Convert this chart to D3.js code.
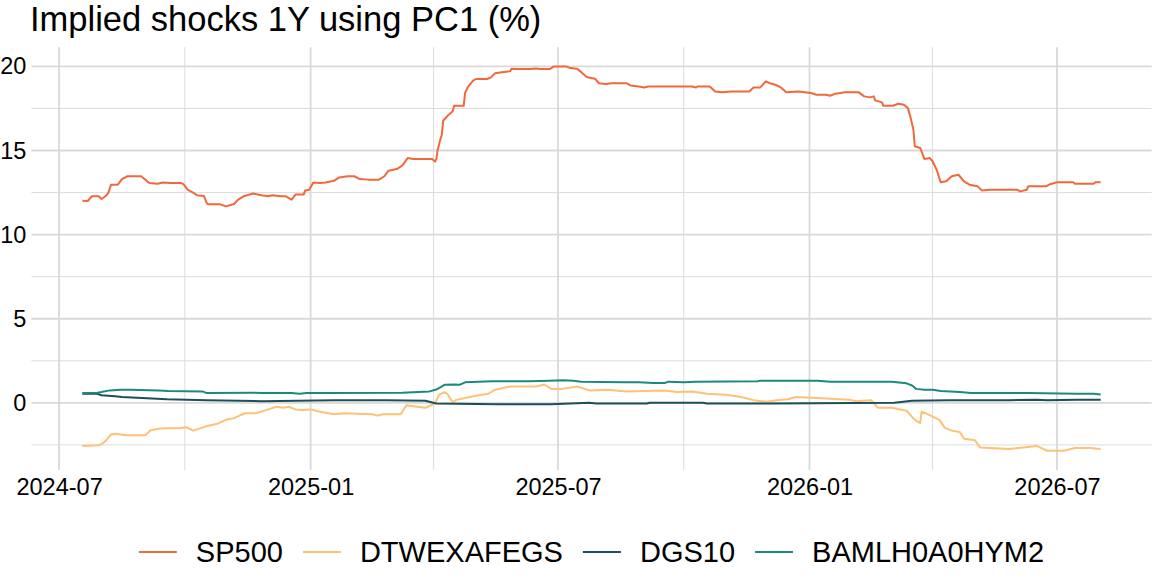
<!DOCTYPE html>
<html><head><meta charset="utf-8">
<script src="https://cdn.jsdelivr.net/npm/d3@7"></script>
<style>
body{margin:0;background:#fff}
svg{display:block}
text{font-family:"Liberation Sans",Arial,Helvetica,sans-serif;fill:#000}
</style>
</head><body>
<svg id="chart" width="1152" height="576"></svg>
<script>
const chartTitle = "Implied shocks 1Y using PC1 (%)";
const seriesNames = ["SP500", "DTWEXAFEGS", "DGS10", "BAMLH0A0HYM2"];
const seriesColors = ["#F0683C", "#FDC177", "#1B4F5B", "#1A8A7E"];
const xTickDates = ["2024-07-01", "2025-01-01", "2025-07-01", "2026-01-01", "2026-07-01"];
const xTickLabels = ["2024-07", "2025-01", "2025-07", "2026-01", "2026-07"];
const xMinorDates = ["2024-10-01", "2025-04-01", "2025-10-01", "2026-04-01"];
const yTicks = [0, 5, 10, 15, 20];
const yTickLabels = ["0", "5", "10", "15", "20"];
const yMinor = [-2.5, 2.5, 7.5, 12.5, 17.5];

const sp500 = [["2024-07-18",12.02],["2024-07-22",12.0],["2024-07-25",12.28],["2024-07-30",12.28],["2024-08-01",12.12],["2024-08-04",12.28],["2024-08-06",12.48],["2024-08-08",12.97],["2024-08-13",12.97],["2024-08-16",13.3],["2024-08-20",13.47],["2024-08-30",13.47],["2024-09-05",13.07],["2024-09-11",13.03],["2024-09-15",13.1],["2024-09-21",13.07],["2024-09-28",13.07],["2024-09-30",13.0],["2024-10-03",12.67],["2024-10-07",12.5],["2024-10-10",12.34],["2024-10-15",12.3],["2024-10-17",11.88],["2024-10-18",11.8],["2024-10-27",11.8],["2024-10-31",11.68],["2024-11-06",11.82],["2024-11-09",12.08],["2024-11-13",12.28],["2024-11-20",12.44],["2024-11-26",12.34],["2024-12-01",12.28],["2024-12-04",12.34],["2024-12-10",12.28],["2024-12-14",12.28],["2024-12-18",12.08],["2024-12-21",12.38],["2024-12-27",12.38],["2024-12-28",12.63],["2024-12-31",12.67],["2025-01-03",13.1],["2025-01-08",13.07],["2025-01-12",13.1],["2025-01-18",13.2],["2025-01-22",13.4],["2025-01-28",13.47],["2025-02-02",13.47],["2025-02-06",13.3],["2025-02-12",13.27],["2025-02-20",13.27],["2025-02-24",13.47],["2025-02-27",13.8],["2025-03-05",13.9],["2025-03-09",14.1],["2025-03-13",14.55],["2025-03-17",14.5],["2025-03-26",14.5],["2025-03-31",14.5],["2025-04-02",14.34],["2025-04-03",14.5],["2025-04-04",15.05],["2025-04-06",15.68],["2025-04-07",15.94],["2025-04-08",16.77],["2025-04-12",17.13],["2025-04-15",17.33],["2025-04-16",17.66],["2025-04-23",17.66],["2025-04-24",18.42],["2025-04-26",18.77],["2025-04-30",19.17],["2025-05-02",19.25],["2025-05-10",19.25],["2025-05-13",19.35],["2025-05-16",19.6],["2025-05-21",19.66],["2025-05-27",19.72],["2025-05-28",19.86],["2025-06-03",19.84],["2025-06-10",19.84],["2025-06-15",19.88],["2025-06-18",19.84],["2025-06-25",19.84],["2025-06-28",20.0],["2025-07-07",20.0],["2025-07-10",19.9],["2025-07-15",19.86],["2025-07-18",19.66],["2025-07-22",19.37],["2025-07-28",19.27],["2025-07-31",19.0],["2025-08-05",18.95],["2025-08-09",19.0],["2025-08-20",19.0],["2025-08-23",18.87],["2025-08-29",18.81],["2025-09-02",18.75],["2025-09-05",18.81],["2025-10-07",18.81],["2025-10-10",18.75],["2025-10-11",18.81],["2025-10-20",18.81],["2025-10-24",18.51],["2025-10-29",18.46],["2025-11-05",18.51],["2025-11-18",18.51],["2025-11-21",18.75],["2025-11-26",18.75],["2025-11-30",19.11],["2025-12-03",19.0],["2025-12-07",18.91],["2025-12-11",18.75],["2025-12-15",18.46],["2025-12-24",18.51],["2026-01-02",18.42],["2026-01-06",18.32],["2026-01-13",18.32],["2026-01-16",18.26],["2026-01-20",18.38],["2026-01-27",18.46],["2026-02-06",18.46],["2026-02-10",18.22],["2026-02-14",18.16],["2026-02-17",18.22],["2026-02-18",17.98],["2026-02-23",17.86],["2026-02-24",17.66],["2026-03-03",17.66],["2026-03-07",17.78],["2026-03-11",17.72],["2026-03-14",17.52],["2026-03-16",16.93],["2026-03-18",16.24],["2026-03-19",15.25],["2026-03-23",15.15],["2026-03-26",14.5],["2026-03-30",14.55],["2026-04-01",14.36],["2026-04-04",13.86],["2026-04-07",13.11],["2026-04-11",13.17],["2026-04-15",13.47],["2026-04-20",13.56],["2026-04-24",13.17],["2026-04-28",12.97],["2026-05-04",12.87],["2026-05-07",12.63],["2026-05-13",12.67],["2026-06-02",12.67],["2026-06-04",12.57],["2026-06-09",12.67],["2026-06-10",12.87],["2026-06-23",12.87],["2026-06-26",13.0],["2026-07-01",13.11],["2026-07-13",13.11],["2026-07-14",13.03],["2026-07-28",13.03],["2026-07-29",13.11],["2026-08-02",13.11]];

const dtwexafegs = [["2024-07-18",-2.56],["2024-07-29",-2.52],["2024-08-01",-2.46],["2024-08-04",-2.27],["2024-08-08",-1.88],["2024-08-11",-1.84],["2024-08-19",-1.92],["2024-09-02",-1.92],["2024-09-06",-1.63],["2024-09-13",-1.53],["2024-09-28",-1.49],["2024-10-02",-1.45],["2024-10-07",-1.65],["2024-10-11",-1.55],["2024-10-18",-1.36],["2024-10-25",-1.24],["2024-10-31",-1.01],["2024-11-06",-0.91],["2024-11-11",-0.72],["2024-11-14",-0.62],["2024-11-22",-0.62],["2024-12-01",-0.39],["2024-12-07",-0.23],["2024-12-12",-0.29],["2024-12-16",-0.23],["2024-12-21",-0.39],["2024-12-26",-0.43],["2025-01-01",-0.39],["2025-01-07",-0.52],["2025-01-18",-0.68],["2025-01-26",-0.62],["2025-02-15",-0.68],["2025-02-19",-0.76],["2025-02-23",-0.68],["2025-03-08",-0.68],["2025-03-12",-0.14],["2025-03-20",-0.23],["2025-03-26",-0.29],["2025-04-02",-0.04],["2025-04-05",0.48],["2025-04-09",0.64],["2025-04-11",0.54],["2025-04-15",0.02],["2025-04-17",0.16],["2025-04-24",0.29],["2025-05-04",0.45],["2025-05-11",0.54],["2025-05-16",0.78],["2025-05-27",0.97],["2025-06-15",0.97],["2025-06-21",1.09],["2025-06-26",0.83],["2025-07-04",0.83],["2025-07-15",0.97],["2025-07-24",0.74],["2025-08-06",0.78],["2025-08-20",0.68],["2025-09-03",0.70],["2025-09-17",0.74],["2025-09-26",0.64],["2025-10-07",0.68],["2025-10-18",0.54],["2025-11-01",0.48],["2025-11-12",0.35],["2025-11-21",0.16],["2025-12-01",0.06],["2025-12-08",0.16],["2025-12-16",0.21],["2025-12-22",0.35],["2026-01-07",0.29],["2026-01-30",0.19],["2026-02-04",0.10],["2026-02-15",0.16],["2026-02-20",-0.29],["2026-03-02",-0.29],["2026-03-13",-0.47],["2026-03-19",-1.01],["2026-03-23",-1.20],["2026-03-24",-0.52],["2026-03-28",-0.66],["2026-04-06",-1.01],["2026-04-10",-1.49],["2026-04-15",-1.65],["2026-04-21",-1.74],["2026-04-24",-2.13],["2026-05-02",-2.23],["2026-05-06",-2.66],["2026-05-27",-2.75],["2026-06-10",-2.62],["2026-06-16",-2.56],["2026-06-24",-2.85],["2026-07-06",-2.85],["2026-07-14",-2.69],["2026-07-25",-2.69],["2026-08-02",-2.75]];

const dgs10 = [["2024-07-18",0.54],["2024-07-29",0.54],["2024-08-01",0.45],["2024-08-11",0.39],["2024-08-16",0.35],["2024-09-18",0.21],["2024-10-17",0.16],["2024-11-26",0.10],["2025-01-18",0.16],["2025-02-26",0.16],["2025-03-26",0.12],["2025-04-03",-0.04],["2025-05-18",-0.08],["2025-06-26",-0.08],["2025-07-24",0.0],["2025-07-29",-0.04],["2025-09-04",-0.04],["2025-09-06",0.0],["2025-10-15",0.0],["2025-10-18",-0.04],["2025-12-05",-0.04],["2026-03-04",0.0],["2026-03-17",0.12],["2026-04-13",0.16],["2026-05-27",0.16],["2026-06-16",0.19],["2026-06-24",0.16],["2026-07-15",0.19],["2026-08-02",0.19]];

const bamlh0a0hym2 = [["2024-07-18",0.58],["2024-07-29",0.60],["2024-08-01",0.64],["2024-08-07",0.74],["2024-08-15",0.78],["2024-08-22",0.78],["2024-09-12",0.74],["2024-09-19",0.70],["2024-10-14",0.68],["2024-10-17",0.58],["2024-11-21",0.60],["2024-11-26",0.58],["2024-12-18",0.58],["2024-12-24",0.54],["2024-12-29",0.58],["2025-01-15",0.58],["2025-03-09",0.60],["2025-03-29",0.68],["2025-04-03",0.79],["2025-04-09",1.07],["2025-04-16",1.09],["2025-04-20",1.07],["2025-04-24",1.22],["2025-05-14",1.28],["2025-06-10",1.28],["2025-06-25",1.32],["2025-07-05",1.34],["2025-07-12",1.32],["2025-07-18",1.26],["2025-08-19",1.22],["2025-08-29",1.22],["2025-09-09",1.18],["2025-09-17",1.18],["2025-09-20",1.26],["2025-10-01",1.22],["2025-10-10",1.26],["2025-11-24",1.28],["2025-11-26",1.32],["2026-01-07",1.32],["2026-01-16",1.26],["2026-03-02",1.26],["2026-03-13",1.16],["2026-03-17",1.03],["2026-03-20",0.83],["2026-03-26",0.78],["2026-04-01",0.78],["2026-04-07",0.70],["2026-04-21",0.64],["2026-04-29",0.58],["2026-06-10",0.58],["2026-07-15",0.54],["2026-07-28",0.54],["2026-08-02",0.50]];

const seriesData = [sp500, dtwexafegs, dgs10, bamlh0a0hym2];

const parse = d3.utcParse("%Y-%m-%d");
const series = seriesNames.map((name, i) => ({
  name, color: seriesColors[i],
  values: seriesData[i].map(([d, v]) => ({date: parse(d), value: v}))
}));

const svg = d3.select("#chart");
const panel = {left: 31.4, right: 1151.6, top: 47.2, bottom: 470};

const allVals = series.flatMap(s => s.values);
const [dMin, dMax] = d3.extent(allVals, d => d.date);
const [vMin, vMax] = d3.extent(allVals, d => d.value);
const dPad = (dMax - dMin) * 0.05, vPad = (vMax - vMin) * 0.05;

const x = d3.scaleUtc().domain([new Date(+dMin - dPad), new Date(+dMax + dPad)]).range([panel.left, panel.right]);
const y = d3.scaleLinear().domain([vMin - vPad, vMax + vPad]).range([panel.bottom, panel.top]);

const grid = svg.append("g");
grid.selectAll("line.ymin").data(yMinor).join("line")
  .attr("x1", panel.left).attr("x2", panel.right)
  .attr("y1", d => y(d)).attr("y2", d => y(d))
  .attr("stroke", "#dcdcdc").attr("stroke-width", 1);
grid.selectAll("line.xmin").data(xMinorDates.map(parse)).join("line")
  .attr("y1", panel.top).attr("y2", panel.bottom)
  .attr("x1", d => x(d)).attr("x2", d => x(d))
  .attr("stroke", "#dcdcdc").attr("stroke-width", 1);
grid.selectAll("line.ymaj").data(yTicks).join("line")
  .attr("x1", panel.left).attr("x2", panel.right)
  .attr("y1", d => y(d)).attr("y2", d => y(d))
  .attr("stroke", "#d9d9d9").attr("stroke-width", 1.8);
grid.selectAll("line.xmaj").data(xTickDates.map(parse)).join("line")
  .attr("y1", panel.top).attr("y2", panel.bottom)
  .attr("x1", d => x(d)).attr("x2", d => x(d))
  .attr("stroke", "#d9d9d9").attr("stroke-width", 1.8);

const yAxis = d3.axisLeft(y).tickValues(yTicks).tickFormat((d, i) => yTickLabels[i]).tickSize(0).tickPadding(5);
const ya = svg.append("g").attr("transform", `translate(${panel.left},0)`).call(yAxis);
ya.select(".domain").remove();
ya.selectAll("text").attr("font-size", 23.5).attr("fill", "#000")
  .attr("font-family", '"Liberation Sans",Arial,sans-serif');

const xAxis = d3.axisBottom(x).tickValues(xTickDates.map(parse)).tickFormat((d, i) => xTickLabels[i]).tickSize(0).tickPadding(8);
const xa = svg.append("g").attr("transform", `translate(0,${panel.bottom})`).call(xAxis);
xa.select(".domain").remove();
xa.selectAll("text").attr("font-size", 23.5).attr("fill", "#000")
  .attr("font-family", '"Liberation Sans",Arial,sans-serif');

const line = d3.line().x(d => x(d.date)).y(d => y(d.value));
svg.append("g").selectAll("path").data(series).join("path")
  .attr("d", d => line(d.values))
  .attr("fill", "none").attr("stroke", d => d.color)
  .attr("stroke-width", 2).attr("stroke-linejoin", "round");

svg.append("text").attr("x", 30).attr("y", 31)
  .attr("font-size", 34.5).text(chartTitle);

const legY = 552;
const keyW = 38, gapKT = 19, gapTK = 20;
const leg = svg.append("g");
const items = series.map(s => {
  const g = leg.append("g");
  g.append("line").attr("x1", 0).attr("x2", keyW).attr("y1", legY).attr("y2", legY)
    .attr("stroke", s.color).attr("stroke-width", 2);
  const t = g.append("text").attr("x", keyW + gapKT).attr("y", legY).attr("dy", "0.36em")
    .attr("font-size", 29).text(s.name);
  return {g, w: keyW + gapKT + t.node().getComputedTextLength()};
});
const total = d3.sum(items, d => d.w) + gapTK * (items.length - 1);
let cx = (panel.left + panel.right) / 2 - total / 2;
items.forEach(it => { it.g.attr("transform", `translate(${cx},0)`); cx += it.w + gapTK; });
</script>
</body></html>
